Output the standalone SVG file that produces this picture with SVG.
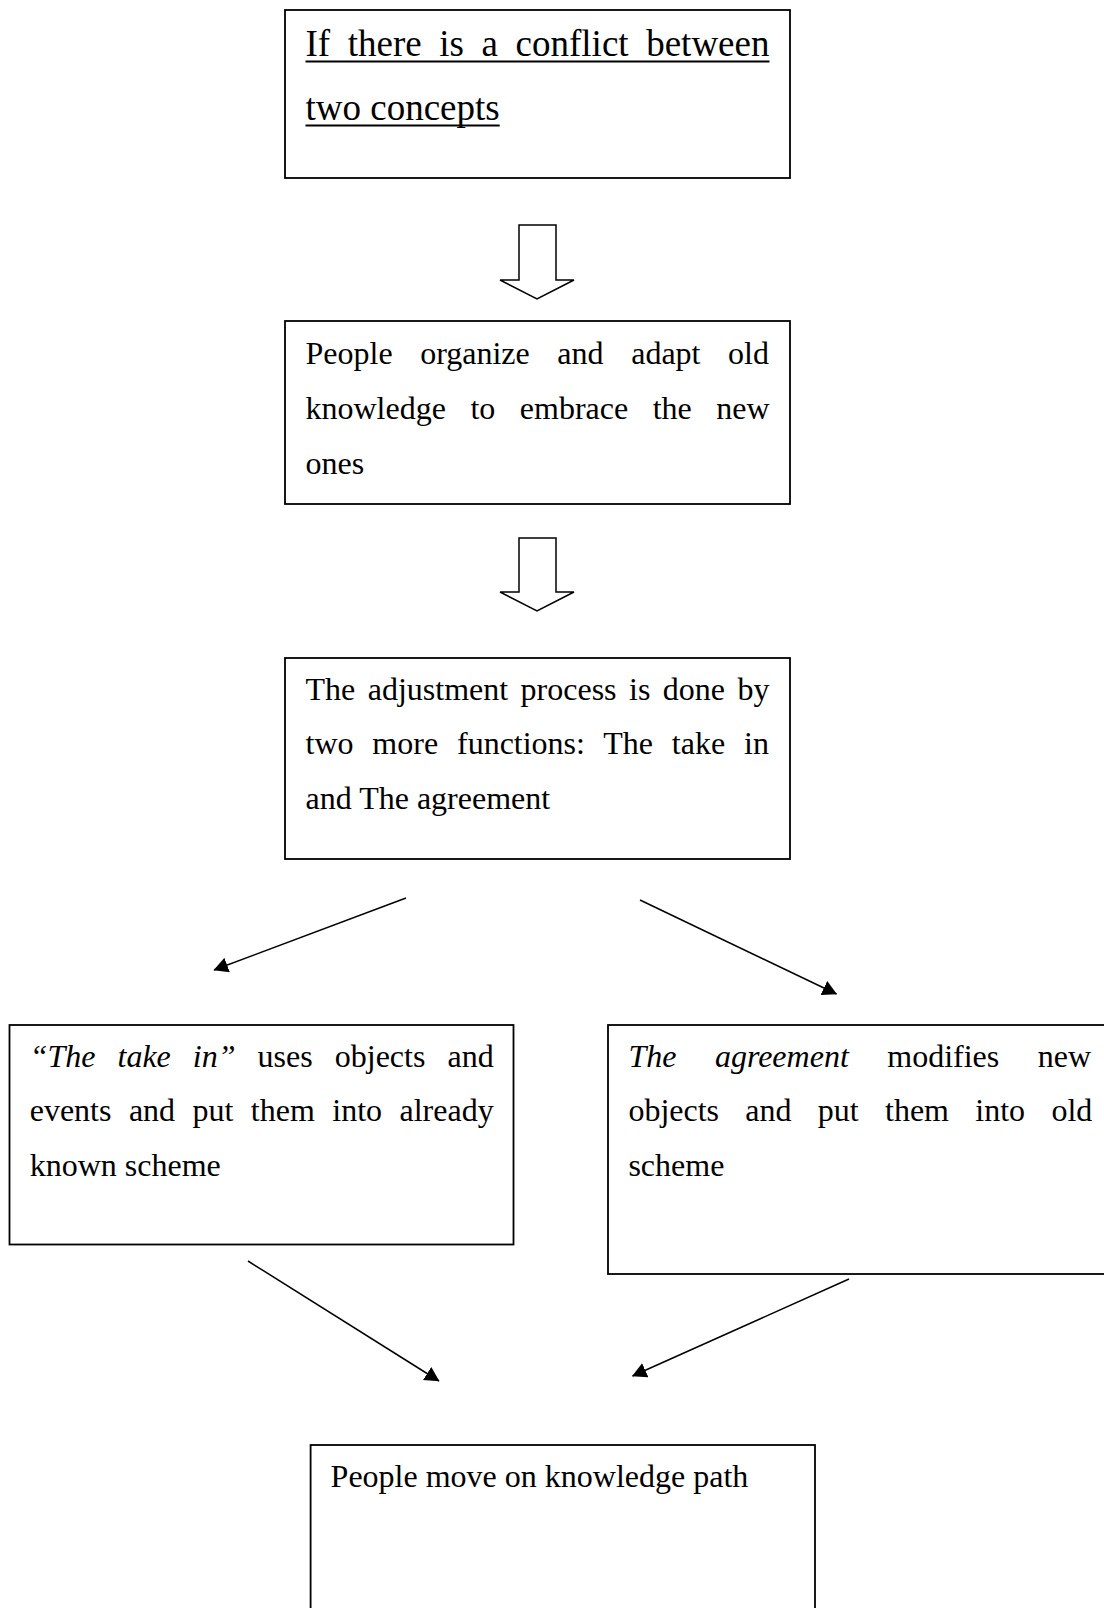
<svg xmlns="http://www.w3.org/2000/svg" width="1104" height="1608" viewBox="0 0 1104 1608">
  <style>
    .box { fill: #fff; stroke: #000; stroke-width: 1.8; }
    .t { font-family: "Liberation Serif", "Times New Roman", serif; font-size: 32px; fill: #000; }
    .big { font-size: 37px; }
    .it { font-style: italic; }
    .ul { stroke: #000; stroke-width: 2; }
    .conn { stroke: #000; stroke-width: 1.5; fill: none; marker-end: url(#head); }
    .block { fill: #fff; stroke: #000; stroke-width: 1.5; stroke-linejoin: miter; }
  </style>
  <defs>
    <marker id="head" markerUnits="userSpaceOnUse" markerWidth="15" markerHeight="16" refX="14" refY="7.75" orient="auto">
      <path d="M0,0 L14.5,7.75 L0,15.5 z" fill="#000"/>
    </marker>
  </defs>

  <rect width="1104" height="1608" fill="#fff"/>

  <!-- block arrows between the upper steps -->
  <g id="block-arrows">
    <polygon class="block" points="519,225 556,225 556,280 574,280 537,299 500,280 519,280"/>
    <polygon class="block" points="519,538 556,538 556,592 574,592 537,611 500,592 519,592"/>
  </g>

  <!-- step 1 -->
  <g id="conflict">
    <rect class="box" x="285" y="10" width="505" height="168"/>
    <text class="t big" x="305.5" y="56" word-spacing="8.35">If there is a conflict between</text>
    <line class="ul" x1="305.5" y1="61.5" x2="769.5" y2="61.5"/>
    <text class="t big" x="305.5" y="120">two concepts</text>
    <line class="ul" x1="305.5" y1="125.5" x2="499.7" y2="125.5"/>
  </g>

  <!-- step 2 -->
  <g id="organize">
    <rect class="box" x="285" y="321" width="505" height="183"/>
    <text class="t" x="305.5" y="364" word-spacing="19.6">People organize and adapt old</text>
    <text class="t" x="305.5" y="419" word-spacing="16.5">knowledge to embrace the new</text>
    <text class="t" x="305.5" y="474">ones</text>
  </g>

  <!-- step 3 -->
  <g id="adjustment">
    <rect class="box" x="285" y="658" width="505" height="201"/>
    <text class="t" x="305.5" y="700" word-spacing="4.46">The adjustment process is done by</text>
    <text class="t" x="305.5" y="754" word-spacing="10.86">two more functions: The take in</text>
    <text class="t" x="305.5" y="809">and The agreement</text>
  </g>

  <!-- branch: take in -->
  <g id="take-in">
    <rect class="box" x="9.5" y="1025" width="504" height="219.5"/>
    <text class="t" x="29.7" y="1067" word-spacing="14.04"><tspan class="it">“The take in”</tspan> uses objects and</text>
    <text class="t" x="29.7" y="1121" word-spacing="9.44">events and put them into already</text>
    <text class="t" x="29.7" y="1176">known scheme</text>
  </g>

  <!-- branch: agreement -->
  <g id="agreement">
    <rect class="box" x="608" y="1025" width="504" height="249"/>
    <text class="t" x="628.4" y="1067" word-spacing="30.5"><tspan class="it">The agreement</tspan> modifies new</text>
    <text class="t" x="628.4" y="1121" word-spacing="18.3">objects and put them into old</text>
    <text class="t" x="628.4" y="1176">scheme</text>
  </g>

  <!-- outcome -->
  <g id="knowledge-path">
    <rect class="box" x="310.6" y="1445" width="504.4" height="170"/>
    <text class="t" x="330.6" y="1487">People move on knowledge path</text>
  </g>

  <!-- connectors -->
  <g id="connectors">
    <line class="conn" x1="406" y1="898" x2="214" y2="970"/>
    <line class="conn" x1="640" y1="900" x2="836.5" y2="994"/>
    <line class="conn" x1="248" y1="1261" x2="439" y2="1381"/>
    <line class="conn" x1="849" y1="1279" x2="632.5" y2="1376"/>
  </g>
</svg>
